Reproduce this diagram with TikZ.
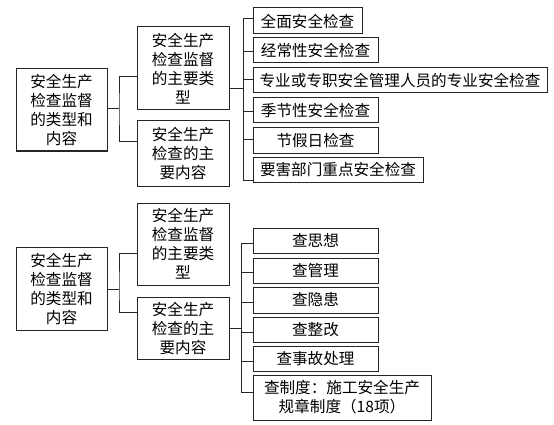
\documentclass[tikz,border=0pt]{standalone}
\usepackage{fontspec}
\setmainfont{Noto Sans CJK SC}
\begin{document}
\begin{tikzpicture}[x=1pt,y=-1pt,
  box/.style={draw=black!85,line width=1pt,inner sep=0pt,align=center,
    font=\fontsize{15.6}{19}\selectfont},
  conn/.style={draw=black!85,line width=1pt}]
\useasboundingbox[fill=white] (0,0) rectangle (554,425);
% top section
\node[box,minimum width=91pt,minimum height=82pt] (R1) at (61.5,110) {安全生产\\检查监督\\的类型和\\内容};
\node[box,minimum width=92pt,minimum height=83pt] (A1) at (183,68.5) {安全生产\\检查监督\\的主要类\\型};
\node[box,minimum width=92pt,minimum height=65pt] (B1) at (183,153.5) {安全生产\\检查的主\\要内容};
\node[box,minimum width=109pt,minimum height=26pt] (L1) at (307.5,21) {全面安全检查};
\node[box,minimum width=125pt,minimum height=25pt] (L2) at (315.5,50.5) {经常性安全检查};
\node[box,minimum width=294pt,minimum height=25pt] (L3) at (400,80.5) {专业或专职安全管理人员的专业安全检查};
\node[box,minimum width=125pt,minimum height=25pt] (L4) at (315.5,110.5) {季节性安全检查};
\node[box,minimum width=125pt,minimum height=25pt] (L5) at (315.5,140.5) {节假日检查};
\node[box,minimum width=170pt,minimum height=25pt] (L6) at (338,169.5) {要害部门重点安全检查};
\coordinate (j1) at (119,109);
\coordinate (k1) at (243,89);
\draw[conn] (R1.east |- j1) -- (j1);
\draw[conn] (A1.west |- 0,77) -| (j1) |- (B1.west |- 0,142);
\draw[conn] (A1.east |- k1) -- (k1);
\draw[conn] (L1.west |- 0,19) -| (k1);
\draw[conn] (L2.west |- 0,52) -| (k1);
\draw[conn] (L3.west |- 0,80) -| (k1);
\draw[conn] (L4.west |- 0,112) -| (k1);
\draw[conn] (L5.west |- 0,140) -| (k1);
\draw[conn] (L6.west |- 0,180) -| (k1);
% bottom section
\node[box,minimum width=91pt,minimum height=83pt] (R2) at (61.5,288.5) {安全生产\\检查监督\\的类型和\\内容};
\node[box,minimum width=92pt,minimum height=82pt] (A2) at (183,244) {安全生产\\检查监督\\的主要类\\型};
\node[box,minimum width=92pt,minimum height=62pt] (B2) at (183,328) {安全生产\\检查的主\\要内容};
\node[box,minimum width=125pt,minimum height=25pt] (M1) at (315.5,240.5) {查思想};
\node[box,minimum width=125pt,minimum height=25pt] (M2) at (315.5,270.5) {查管理};
\node[box,minimum width=125pt,minimum height=26pt] (M3) at (315.5,300) {查隐患};
\node[box,minimum width=125pt,minimum height=25pt] (M4) at (315.5,329.5) {查整改};
\node[box,minimum width=125pt,minimum height=25pt] (M5) at (315.5,358.5) {查事故处理};
\node[box,minimum width=178pt,minimum height=45pt] (M6) at (342,397.5) {查制度：施工安全生产\\规章制度（18项）};
\coordinate (j2) at (119,289);
\coordinate (k2) at (241,328);
\draw[conn] (R2.east |- j2) -- (j2);
\draw[conn] (A2.west |- 0,253) -| (j2) |- (B2.west |- 0,312);
\draw[conn] (B2.east |- k2) -- (k2);
\draw[conn] (M1.west |- 0,243) -| (k2);
\draw[conn] (M2.west |- 0,272) -| (k2);
\draw[conn] (M3.west |- 0,302) -| (k2);
\draw[conn] (M4.west |- 0,332) -| (k2);
\draw[conn] (M5.west |- 0,361) -| (k2);
\draw[conn] (M6.west |- 0,392) -| (k2);
\end{tikzpicture}
\end{document}
